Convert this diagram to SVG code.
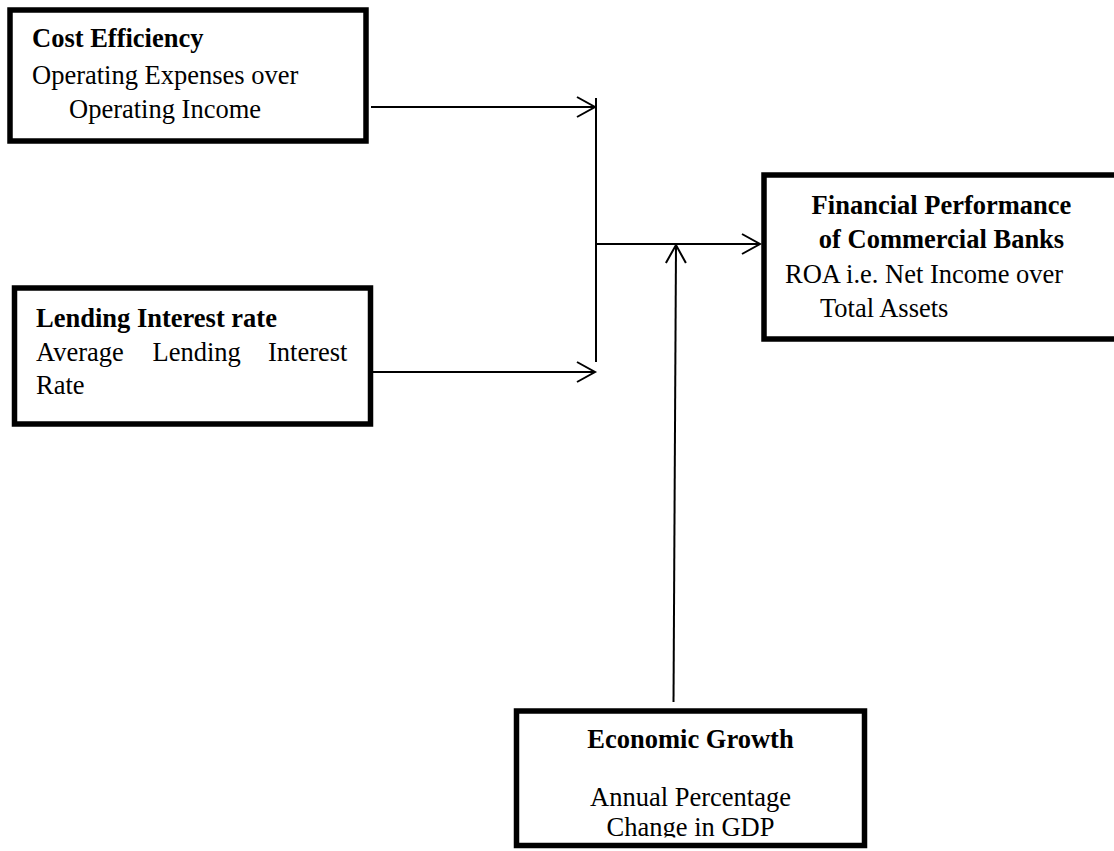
<svg xmlns="http://www.w3.org/2000/svg" width="1114" height="851" viewBox="0 0 1114 851">
  <defs>
    <style>
      .box { fill: #fff; stroke: #000; stroke-width: 5.5; }
      .t { font-family: "Liberation Serif", "Times New Roman", serif; font-size: 26.5px; fill: #000; }
      .b { font-weight: bold; }
      .c { text-anchor: middle; }
      .conn { fill: none; stroke: #000; stroke-width: 2; }
    </style>
    <marker id="arr" markerUnits="userSpaceOnUse" markerWidth="24" markerHeight="24" viewBox="-20 -12 24 24" refX="0" refY="0" orient="auto" overflow="visible">
      <path d="M-18,-10 L0,0 L-18,10" fill="none" stroke="#000" stroke-width="2"/>
    </marker>
    <clipPath id="clip4">
      <rect x="519" y="714" width="343" height="123.5"/>
    </clipPath>
  </defs>
  <rect width="1114" height="851" fill="#fff"/>

  <g id="connectors">
    <line class="conn" x1="371" y1="107" x2="595" y2="107" marker-end="url(#arr)"/>
    <line class="conn" x1="372" y1="372" x2="595" y2="372" marker-end="url(#arr)"/>
    <line class="conn" x1="596" y1="98" x2="596" y2="362"/>
    <line class="conn" x1="596" y1="244" x2="760" y2="244" marker-end="url(#arr)"/>
    <line class="conn" x1="673.5" y1="702" x2="676" y2="245" marker-end="url(#arr)"/>
  </g>

  <g id="cost-efficiency">
    <rect class="box" x="10" y="10" width="356" height="131"/>
    <text class="t b" x="32" y="47">Cost Efficiency</text>
    <text class="t" x="32" y="83.5">Operating Expenses over</text>
    <text class="t" x="69" y="118">Operating Income</text>
  </g>

  <g id="lending-interest-rate">
    <rect class="box" x="14.5" y="288" width="356" height="136"/>
    <text class="t b" x="36" y="327">Lending Interest rate</text>
    <text class="t" y="361"><tspan x="36">Average</tspan><tspan x="152.5">Lending</tspan><tspan x="268">Interest</tspan></text>
    <text class="t" x="36" y="394">Rate</text>
  </g>

  <g id="financial-performance">
    <rect class="box" x="764" y="175" width="400" height="164"/>
    <text class="t b c" x="941.5" y="214">Financial Performance</text>
    <text class="t b c" x="941.5" y="248">of Commercial Banks</text>
    <text class="t" x="785" y="283">ROA i.e. Net Income over</text>
    <text class="t" x="820" y="317">Total Assets</text>
  </g>

  <g id="economic-growth">
    <rect class="box" x="516.5" y="711" width="348" height="134.5"/>
    <text class="t b c" x="690.5" y="748">Economic Growth</text>
    <text class="t c" x="690.5" y="806">Annual Percentage</text>
    <text class="t c" x="690.5" y="836" clip-path="url(#clip4)">Change in GDP</text>
  </g>
</svg>
